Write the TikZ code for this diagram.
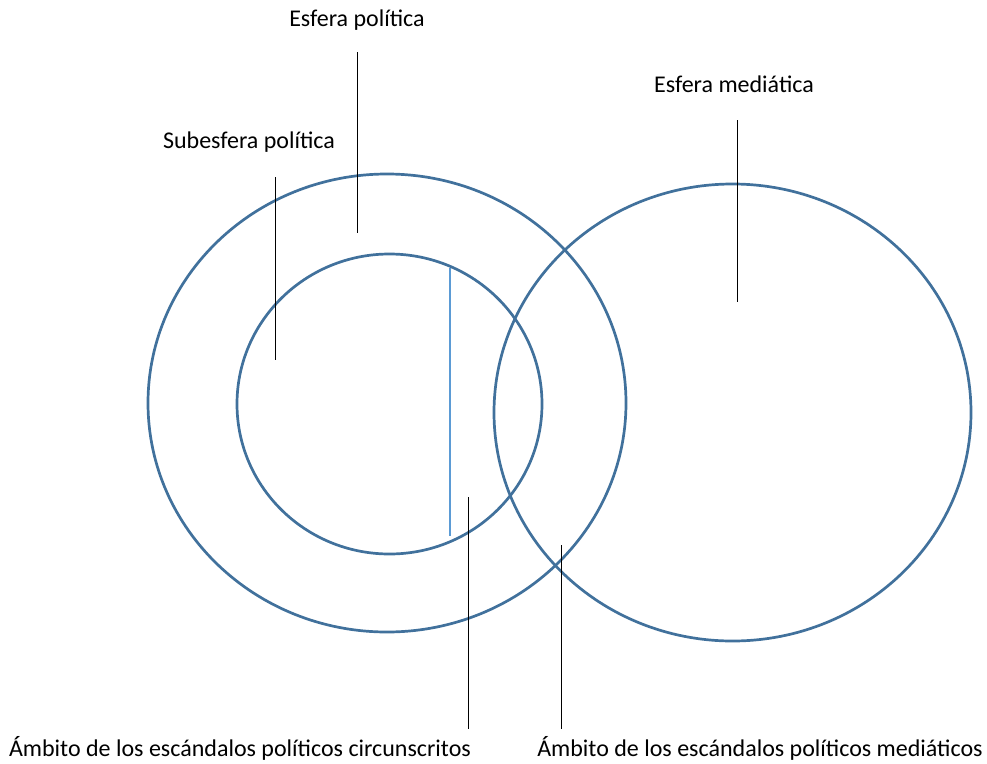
\documentclass[tikz,border=0pt]{standalone}
\usepackage{fontspec}
\setmainfont{Carlito}
\usepackage{tikz}
\usepackage{xcolor}
\definecolor{ringblue}{HTML}{41719C}
\definecolor{lightblue}{HTML}{5B9BD5}

\begin{document}
\begin{tikzpicture}[x=1pt,y=-1pt,
    ring/.style={draw=ringblue,line width=2.7pt},
    lbl/.style={font=\fontsize{24}{28}\selectfont,inner sep=0pt},
    pointer/.style={draw=black,line width=1pt}]
    \useasboundingbox (0,0) rectangle (987,763);

    % Spheres
    \draw [ring] (387,403) ellipse [x radius=239,y radius=229];
    \draw [ring] (389.5,404) ellipse [x radius=152.5,y radius=150];
    \draw [ring] (732.5,412.5) ellipse [x radius=238.5,y radius=228.5];

    % Boundary of the circumscribed area
    \coordinate (Btop) at (450,268);
    \coordinate (Bbot) at (450,536);
    \draw [draw=lightblue,line width=2.8pt] (Btop) to (Bbot);

    % Labels
    \node [lbl] (esfpol) at (357,20) {Esfera política};
    \node [lbl] (subpol) at (249,142) {Subesfera política};
    \node [lbl] (esfmed) at (734,84) {Esfera mediática};
    \node [lbl] (ambcir) at (240,748) {Ámbito de los escándalos políticos circunscritos};
    \node [lbl] (ambmed) at (760,748) {Ámbito de los escándalos políticos mediáticos};

    % Pointer lines
    \coordinate (P1a) at (357,52);
    \coordinate (P1b) at (357,233);
    \draw [pointer] (P1a) to (P1b);
    \coordinate (P2a) at (275,177);
    \coordinate (P2b) at (275,360);
    \draw [pointer] (P2a) to (P2b);
    \coordinate (P3a) at (737,120);
    \coordinate (P3b) at (737,302);
    \draw [pointer] (P3a) to (P3b);
    \coordinate (P4a) at (468,497);
    \coordinate (P4b) at (468,729);
    \draw [pointer] (P4a) to (P4b);
    \coordinate (P5a) at (561,545);
    \coordinate (P5b) at (561,729);
    \draw [pointer] (P5a) to (P5b);
\end{tikzpicture}
\end{document}
